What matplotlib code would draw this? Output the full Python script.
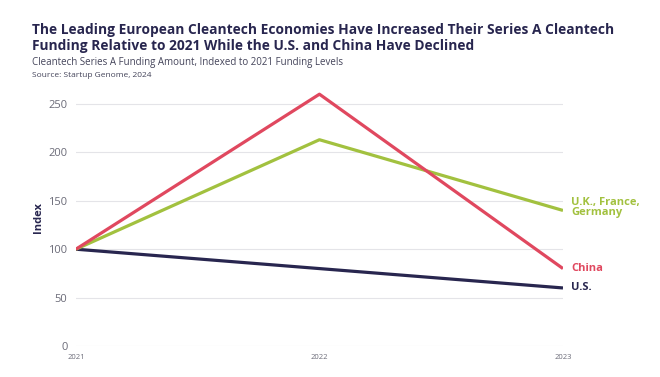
import matplotlib
matplotlib.use('Agg')
import matplotlib.pyplot as plt

years = ['2021', '2022', '2023']
us = [100, 80, 60]
china = [100, 260, 80]
europe = [100, 213, 140]

navy = '#28264f'
red = '#e0485f'
green = '#a2c13f'
grey = '#6b6b78'

plt.rcParams['font.family'] = ['Open Sans', 'DejaVu Sans']

fig = plt.figure(figsize=(6.6, 3.77), dpi=100)
ax = fig.add_axes([0.115, 0.082, 0.738, 0.681])

x = range(len(years))
ax.plot(x, us, color=navy, linewidth=2.3, solid_capstyle='butt')
ax.plot(x, europe, color=green, linewidth=2.3, solid_capstyle='butt')
ax.plot(x, china, color=red, linewidth=2.3, solid_capstyle='butt')

ax.set_xlim(0, 2)
ax.set_ylim(0, 265)
ax.set_yticks([0, 50, 100, 150, 200, 250])
ax.set_xticks(list(x))
ax.set_xticklabels(years)
ax.tick_params(axis='y', length=0, pad=6, labelsize=8, labelcolor=grey)
ax.tick_params(axis='x', length=0, pad=6, labelsize=5.5, labelcolor=grey)
ax.grid(axis='y', color='#e4e4e8', linewidth=0.8)
for s in ax.spines.values():
    s.set_visible(False)
ax.set_ylabel('Index', fontsize=8, fontweight='bold', color=navy, labelpad=3)

# labels at the line ends
ax.annotate('U.K., France,\nGermany', xy=(2, europe[-1]), xytext=(6, 2),
            textcoords='offset points', ha='left', va='center',
            fontsize=8, fontweight='bold', color=green, linespacing=0.95,
            annotation_clip=False)
ax.annotate('China', xy=(2, china[-1]), xytext=(6, 0),
            textcoords='offset points', ha='left', va='center',
            fontsize=8, fontweight='bold', color=red, annotation_clip=False)
ax.annotate('U.S.', xy=(2, us[-1]), xytext=(6, 0),
            textcoords='offset points', ha='left', va='center',
            fontsize=8, fontweight='bold', color=navy, annotation_clip=False)

# title block
fig.text(0.048, 0.910, 'The Leading European Cleantech Economies Have Increased Their Series A Cleantech',
         fontsize=9.9, fontweight='bold', color=navy, va='baseline')
fig.text(0.048, 0.867, 'Funding Relative to 2021 While the U.S. and China Have Declined',
         fontsize=9.9, fontweight='bold', color=navy, va='baseline')
fig.text(0.048, 0.828, 'Cleantech Series A Funding Amount, Indexed to 2021 Funding Levels',
         fontsize=7.0, color='#44445a', va='baseline')
fig.text(0.048, 0.796, 'Source: Startup Genome, 2024', fontsize=6.0, color='#44445a', va='baseline')

fig.savefig('out.png', dpi=100, facecolor='white')
